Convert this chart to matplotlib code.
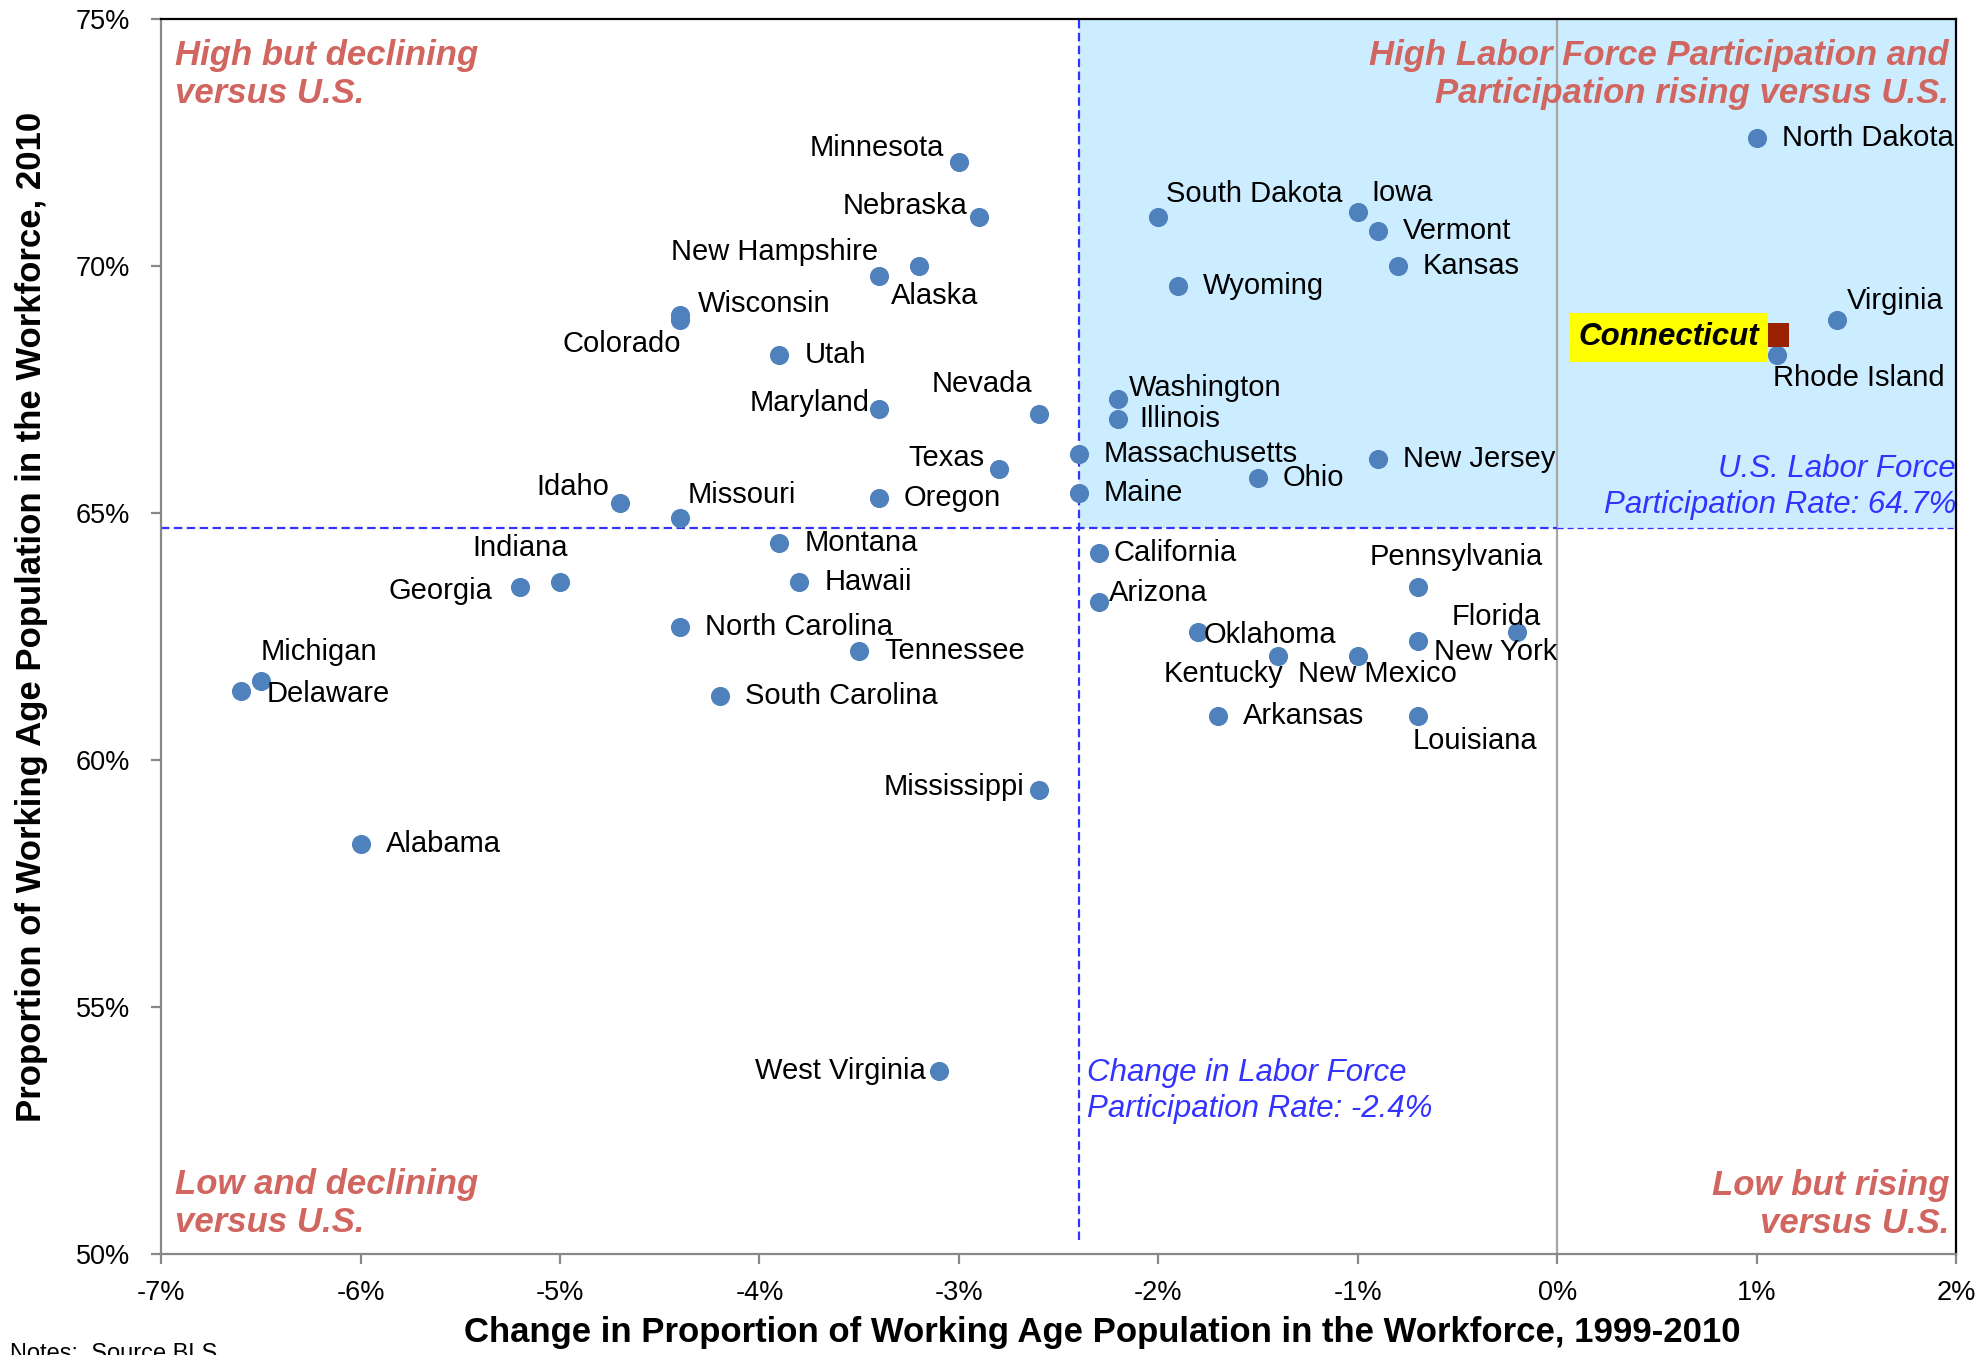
import numpy as np
import matplotlib
matplotlib.use("Agg")
import matplotlib.pyplot as plt
from matplotlib.patches import Rectangle

# state data: change 1999-2010 (pct pts), proportion in workforce 2010 (%)
states = ["Minnesota", "Nebraska", "New Hampshire", "Alaska", "Wisconsin", "Colorado",
          "Utah", "Maryland", "Nevada", "Texas", "Oregon", "Idaho", "Missouri", "Montana",
          "Hawaii", "Indiana", "Georgia", "North Carolina", "Tennessee", "South Carolina",
          "Michigan", "Delaware", "Mississippi", "Alabama", "West Virginia",
          "South Dakota", "Iowa", "Vermont", "Kansas", "Wyoming", "Washington", "Illinois",
          "Massachusetts", "Maine", "Ohio", "New Jersey", "North Dakota", "Virginia",
          "Rhode Island", "California", "Arizona", "Oklahoma", "Kentucky", "New Mexico",
          "Pennsylvania", "Florida", "New York", "Arkansas", "Louisiana"]
change = [-3.0, -2.9, -3.4, -3.2, -4.4, -4.4,
          -3.9, -3.4, -2.6, -2.8, -3.4, -4.7, -4.4, -3.9,
          -3.8, -5.0, -5.2, -4.4, -3.5, -4.2,
          -6.5, -6.6, -2.6, -6.0, -3.1,
          -2.0, -1.0, -0.9, -0.8, -1.9, -2.2, -2.2,
          -2.4, -2.4, -1.5, -0.9, 1.0, 1.4,
          1.1, -2.3, -2.3, -1.8, -1.4, -1.0,
          -0.7, -0.2, -0.7, -1.7, -0.7]
rate = [72.1, 71.0, 69.8, 70.0, 69.0, 68.9,
        68.2, 67.1, 67.0, 65.9, 65.3, 65.2, 64.9, 64.4,
        63.6, 63.6, 63.5, 62.7, 62.2, 61.3,
        61.6, 61.4, 59.4, 58.3, 53.7,
        71.0, 71.1, 70.7, 70.0, 69.6, 67.3, 66.9,
        66.2, 65.4, 65.7, 66.1, 72.6, 68.9,
        68.2, 64.2, 63.2, 62.6, 62.1, 62.1,
        63.5, 62.6, 62.4, 60.9, 60.9]

ct_name = "Connecticut"
ct_change = 1.1
ct_rate = 68.6

us_change = -2.4
us_rate = 64.7

xticks = [-7, -6, -5, -4, -3, -2, -1, 0, 1, 2]
yticks = [50, 55, 60, 65, 70, 75]

# label placement: (dx, dy in pixels, horizontal alignment)
label_pos = {
    "Minnesota": (-15, 14, "right"), "Nebraska": (-11, 11, "right"),
    "New Hampshire": (-1, 24, "right"), "Alaska": (-28, -30, "left"),
    "Wisconsin": (18, 11, "left"), "Colorado": (1, -24, "right"),
    "Maryland": (-9, 6, "right"), "Nevada": (-6, 30, "right"),
    "Texas": (-14, 11, "right"), "Idaho": (-11, 16, "right"),
    "Missouri": (8, 23, "left"), "Indiana": (-40, 34, "center"),
    "Georgia": (-28, -4, "right"), "Michigan": (0, 29, "left"),
    "Delaware": (26, -3, "left"), "Mississippi": (-14, 3, "right"),
    "West Virginia": (-13, 0, "right"), "South Dakota": (8, 23, "left"),
    "Iowa": (14, 19, "left"), "Washington": (10, 11, "left"),
    "Illinois": (21, 0, "left"), "Virginia": (10, 19, "left"),
    "Rhode Island": (-4, -23, "left"), "California": (15, 0, "left"),
    "Arizona": (10, 9, "left"), "Oklahoma": (5, -3, "left"),
    "Kentucky": (5, -18, "right"), "New Mexico": (20, -18, "center"),
    "Pennsylvania": (39, 30, "center"), "Florida": (-21, 15, "center"),
    "New York": (16, -11, "left"), "Louisiana": (57, -25, "center"),
}

blue = "#4F81BD"
quad_col = "#D0665F"
note_col = "#3333FF"

fig = plt.figure(figsize=(19.76, 13.55), dpi=100)
ax = fig.add_axes([0.0815, 0.0745, 0.9085, 0.9115])
ax.set_xlim(-7, 2)
ax.set_ylim(50, 75)

# shaded quadrant
ax.add_patch(Rectangle((us_change, us_rate), 2 - us_change, 75 - us_rate,
                       facecolor="#CCECFF", edgecolor="none", zorder=0))
ax.axvline(0, color="#A6A6A6", lw=1.6, zorder=1)
ax.plot([-7, 0], [us_rate, us_rate], color=note_col, lw=1.6, ls=(0, (3.8, 2)), zorder=1)
ax.plot([0, 2], [us_rate, us_rate], color=note_col, lw=0.9, ls=(0, (5, 3)), zorder=1)
ax.axvline(us_change, ymin=0.011, color=note_col, lw=1.6, ls=(0, (3.8, 2)), zorder=1)

ax.scatter(change, rate, s=190, color=blue, zorder=3, linewidths=0)
ax.scatter([ct_change], [ct_rate], s=290, marker="s", color="#992200", zorder=4, linewidths=0)

for name, x, y in zip(states, change, rate):
    dx, dy, ha = label_pos.get(name, (25, 0, "left"))
    ax.annotate(name, (x, y), xytext=(dx, dy), textcoords="offset pixels",
                ha=ha, va="center", fontsize=21, family="Liberation Sans", zorder=5)

ax.annotate(ct_name, (ct_change, ct_rate), xytext=(-18, -2), textcoords="offset pixels",
            ha="right", va="center", fontsize=22.5, family="Liberation Sans",
            fontweight="bold", fontstyle="italic", zorder=5,
            bbox=dict(boxstyle="square,pad=0.3", facecolor="#FFFF00", edgecolor="none"))

# quadrant labels
qk = dict(color=quad_col, fontsize=25, family="Liberation Sans", fontweight="bold",
          fontstyle="italic", linespacing=1.2, transform=ax.transAxes)
ax.text(0.0075, 0.984, "High but declining\nversus U.S.", ha="left", va="top", **qk)
ax.text(0.996, 0.984, "High Labor Force Participation and\nParticipation rising versus U.S.",
        ha="right", va="top", **qk)
ax.text(0.0075, 0.012, "Low and declining\nversus U.S.", ha="left", va="bottom", **qk)
ax.text(0.996, 0.011, "Low but rising\nversus U.S.", ha="right", va="bottom", **qk)

nk = dict(color=note_col, fontsize=22.5, family="Liberation Sans", fontstyle="italic",
          linespacing=1.26)
ax.text(2.0, 64.85, "U.S. Labor Force\nParticipation Rate: 64.7%", ha="right", va="bottom", **nk)
ax.text(us_change + 0.04, 52.64, "Change in Labor Force\nParticipation Rate: -2.4%",
        ha="left", va="bottom", **nk)

# axes styling
for side in ["left", "bottom"]:
    ax.spines[side].set_color("#888888")
    ax.spines[side].set_linewidth(1.6)
for side in ["top", "right"]:
    ax.spines[side].set_color("black")
    ax.spines[side].set_linewidth(1.6)

ax.set_xticks(xticks)
ax.set_yticks(yticks)
ax.set_xticklabels([f"{t}%" for t in xticks])
ax.set_yticklabels([f"{t}%" for t in yticks])
ax.tick_params(axis="both", direction="out", length=7, width=1.6, color="#888888",
               labelsize=19.5)
ax.tick_params(axis="x", pad=12)
ax.tick_params(axis="y", pad=15)
for lab in ax.get_xticklabels() + ax.get_yticklabels():
    lab.set_family("Liberation Sans")

narrow = ["Liberation Sans Narrow", "Liberation Sans"]
ax.set_xlabel("Change in Proportion of Working Age Population in the Workforce, 1999-2010",
              fontsize=25, fontweight="bold", family=narrow, labelpad=7)
ax.set_ylabel("Proportion of Working Age Population in the Workforce, 2010",
              fontsize=25, fontweight="bold", family=narrow, labelpad=20)
# the original labels sit a little off-centre
ax.xaxis.label.set_x(0.5245)
ax.yaxis.label.set_y(0.516)

fig.text(0.005, 0.009, "Notes:  Source BLS", ha="left", va="top", fontsize=17,
         family="Liberation Sans")

fig.savefig("out.png", dpi=100)
